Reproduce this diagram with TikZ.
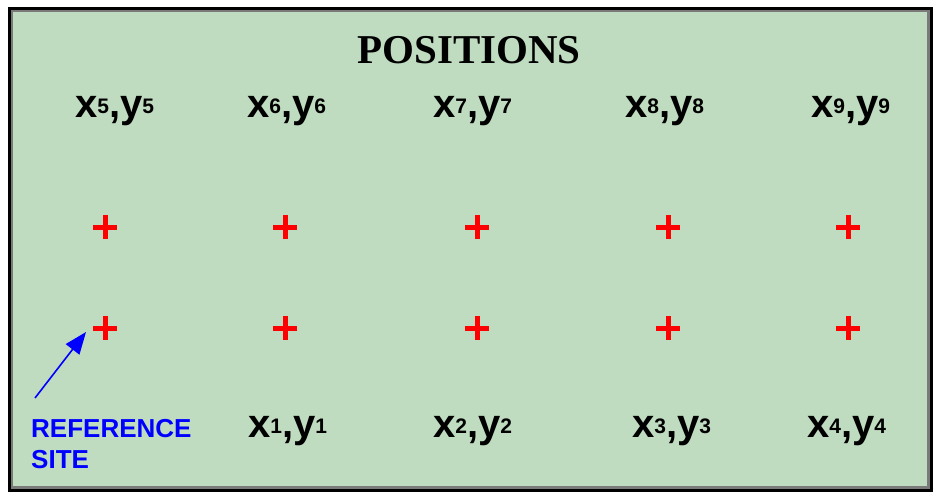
\documentclass[tikz,border=0pt]{standalone}
\usepackage{fontspec}
\setmainfont{Liberation Serif}
\newfontfamily\labfont{Liberation Sans}
\usetikzlibrary{arrows.meta}
\definecolor{bggreen}{HTML}{C0DCC0}
\definecolor{framegrey}{HTML}{7A7A7A}
\newcommand\xylab[1]{{\labfont\bfseries\fontsize{40}{40}\selectfont x\raisebox{4pt}{\fontsize{21}{21}\selectfont #1},y\raisebox{4pt}{\fontsize{21}{21}\selectfont #1}}}
\begin{document}
\begin{tikzpicture}[x=1pt,y=-1pt,
  lab/.style={anchor=base west,inner sep=0pt},
  plus/.style={minimum size=24pt,inner sep=0pt,
    path picture={\draw[red,line width=5pt]
      (path picture bounding box.west) -- (path picture bounding box.east)
      (path picture bounding box.north) -- (path picture bounding box.south);}},
  reftext/.style={anchor=base west,inner sep=0pt,text=blue,
    font=\labfont\bfseries\fontsize{26}{31}\selectfont},
  arr/.style={blue,line width=1.6pt,-{Triangle[length=22pt,width=17pt]}}]
\useasboundingbox (0,0) rectangle (935,493);
\fill[bggreen] (8,7) rectangle (932,491);
\draw[black,line width=3pt] (9.5,8.5) rectangle (931,490);
\draw[framegrey,line width=2.5pt] (12,11) rectangle (928.5,487.5);
\node[anchor=base,inner sep=0pt,font=\bfseries\fontsize{41}{41}\selectfont] (title) at (469,63) {POSITIONS};
% top labels
\node[lab] (l5) at (75,117) {\xylab{5}};
\node[lab] (l6) at (247,117) {\xylab{6}};
\node[lab] (l7) at (433,117) {\xylab{7}};
\node[lab] (l8) at (625,117) {\xylab{8}};
\node[lab] (l9) at (811,117) {\xylab{9}};
% bottom labels
\node[lab] (l1) at (248,437) {\xylab{1}};
\node[lab] (l2) at (433,437) {\xylab{2}};
\node[lab] (l3) at (632,437) {\xylab{3}};
\node[lab] (l4) at (807,437) {\xylab{4}};
% plus marks
\node[plus] (pa1) at (105,227) {};
\node[plus] (pa2) at (285,227) {};
\node[plus] (pa3) at (477,227) {};
\node[plus] (pa4) at (668,227) {};
\node[plus] (pa5) at (848,227) {};
\node[plus] (pb1) at (105,328) {};
\node[plus] (pb2) at (285,328) {};
\node[plus] (pb3) at (477,328) {};
\node[plus] (pb4) at (668,328) {};
\node[plus] (pb5) at (848,328) {};
% reference site
\node[reftext] (ref1) at (31,437) {REFERENCE};
\node[reftext] (ref2) at (31,468) {SITE};
\coordinate (tail) at (35,398);
\coordinate (tip) at (86,332);
\draw[arr] (tail) -- (tip);
\end{tikzpicture}
\end{document}
